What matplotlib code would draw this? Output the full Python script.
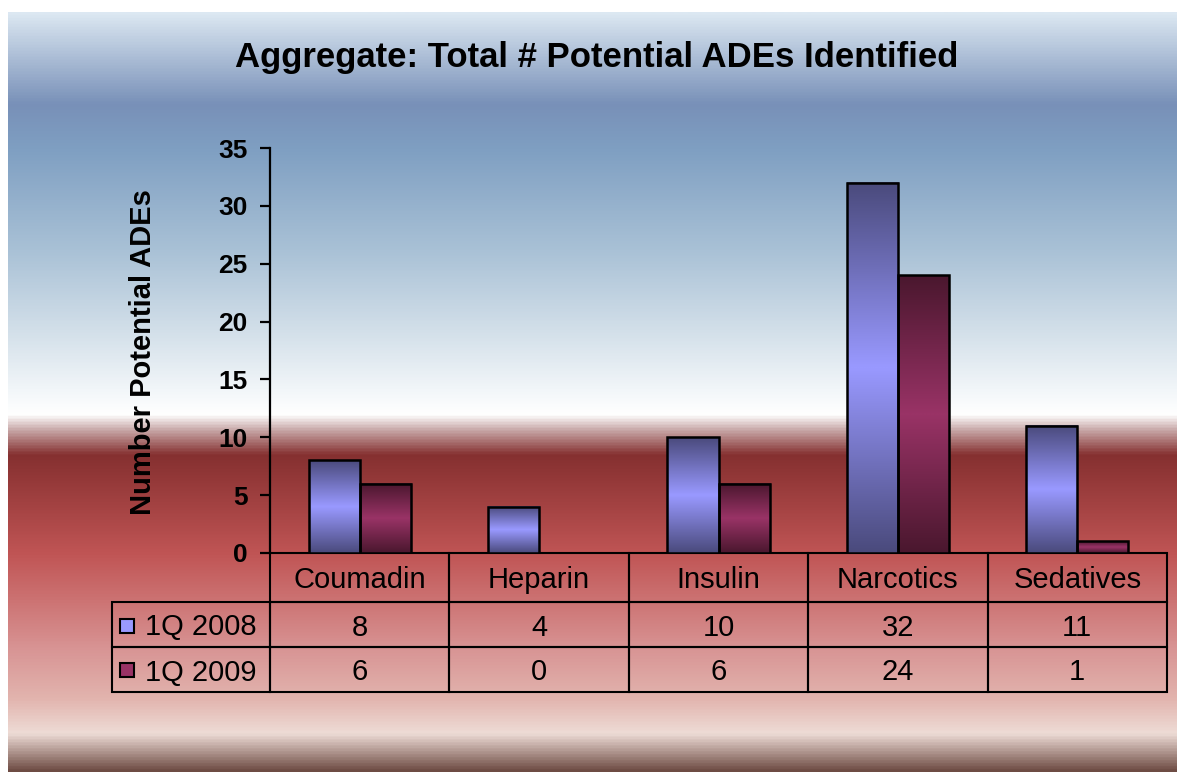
import numpy as np
import matplotlib
matplotlib.use("Agg")
import matplotlib.pyplot as plt
from matplotlib.colors import LinearSegmentedColormap
from matplotlib.patches import Rectangle

plt.rcParams['font.family'] = ['Liberation Sans', 'DejaVu Sans']

categories = ['Coumadin', 'Heparin', 'Insulin', 'Narcotics', 'Sedatives']
series_names = ['1Q 2008', '1Q 2009']
q1_2008 = [8, 4, 10, 32, 11]
q1_2009 = [6, 0, 6, 24, 1]
yticks = [0, 5, 10, 15, 20, 25, 30, 35]

# colours: (dark end, light middle) for the bar gradients
bar_cols = [('#4a4a7c', '#9999ff'), ('#4a172e', '#993366')]
legend_cols = ['#9999ff', '#993366']

bg_stops = [(0.0, '#dce8f2'), (0.12, '#7890b8'), (0.18, '#7f9fc2'),
            (0.313, '#a9c1d6'), (0.418, '#d2dfe9'), (0.517, '#fafcfd'),
            (0.53, '#ffffff'), (0.55, '#c8a8a8'), (0.583, '#853030'),
            (0.642, '#a04040'), (0.714, '#c05555'), (0.774, '#cc7272'),
            (0.839, '#d89494'), (0.905, '#e2b4ae'), (0.951, '#eedcd6'),
            (1.0, '#6e4c44')]

W, H = 1177, 772
fig = plt.figure(figsize=(W / 100, H / 100), dpi=100, facecolor='white')

# background gradient
bg = fig.add_axes([8 / W, 0, 1 - 8 / W, (H - 12) / H], zorder=-10)
bg_cmap = LinearSegmentedColormap.from_list('bg', bg_stops)
bg.imshow(np.linspace(0, 1, 512).reshape(-1, 1), cmap=bg_cmap, aspect='auto',
          extent=[0, 1, 0, 1], origin='upper', interpolation='bilinear')
bg.set_axis_off()

ax = fig.add_axes([270 / W, 1 - 553 / H, 897 / W, 405 / H])
ax.set_facecolor('none')

x = np.arange(len(categories))
bw = 0.285
t = np.linspace(0, 1, 256)
profile = 1 - np.abs(2 * t - 1)
for i, vals in enumerate([q1_2008, q1_2009]):
    bars = ax.bar(x + (i - 0.5) * bw, vals, bw, facecolor='none',
                  edgecolor='black', linewidth=1.8, zorder=3)
    cmap = LinearSegmentedColormap.from_list('b%d' % i, bar_cols[i])
    for p in bars:
        if p.get_height() <= 0:
            p.set_visible(False)
            continue
        ax.imshow(profile.reshape(-1, 1), cmap=cmap, aspect='auto',
                  extent=[p.get_x(), p.get_x() + p.get_width(), 0, p.get_height()],
                  interpolation='bilinear', zorder=2)

ax.set_xlim(-0.5, len(categories) - 0.5)
ax.set_ylim(0, 35)
ax.set_yticks(yticks)
ax.set_xticks([])
for s in ['top', 'right', 'bottom']:
    ax.spines[s].set_visible(False)
ax.spines['left'].set_linewidth(1.6)
ax.tick_params(axis='y', direction='out', length=7, width=1.6, pad=9,
               labelsize=19)
for lab in ax.get_yticklabels():
    lab.set_fontweight('bold')
ax.set_ylabel('Number Potential ADEs', fontsize=21, fontweight='bold')
ax.yaxis.set_label_coords(-0.126, 0.496)

# data table under the axes
cell_text = [[str(v) for v in q1_2008], [str(v) for v in q1_2009]]
n = len(categories)
head_h = 49 / 405
row_h = 45 / 405
tab = ax.table(cellText=cell_text, colLabels=categories, cellLoc='center',
               colWidths=[1 / n] * n, loc='bottom')
tab.auto_set_font_size(False)
tab.set_fontsize(21)
for r, name in enumerate(series_names):
    tab.add_cell(r + 1, -1, width=158 / 897, height=row_h, text=name, loc='left')
for (r, c), cell in tab.get_celld().items():
    cell.set_facecolor('none')
    cell.set_edgecolor('black')
    cell.set_linewidth(1.5)
    cell.set_height(head_h if r == 0 else row_h)
    cell.get_text().set_fontsize(21)
    cell.get_text().set_verticalalignment('center_baseline')
    if c == -1:
        cell.PAD = 0.21

# legend keys inside the row label cells
for i, col in enumerate(legend_cols):
    yc = 626 + i * 44
    fig.patches.append(Rectangle((120 / W, 1 - (yc + 7) / H), 14 / W, 14 / H,
                                 transform=fig.transFigure, facecolor=col,
                                 edgecolor='black', linewidth=1.5))

fig.text(0.507, 1 - 58 / H, 'Aggregate: Total # Potential ADEs Identified',
         ha='center', va='center', fontsize=25, fontweight='bold')

fig.savefig('out.png', dpi=100)
